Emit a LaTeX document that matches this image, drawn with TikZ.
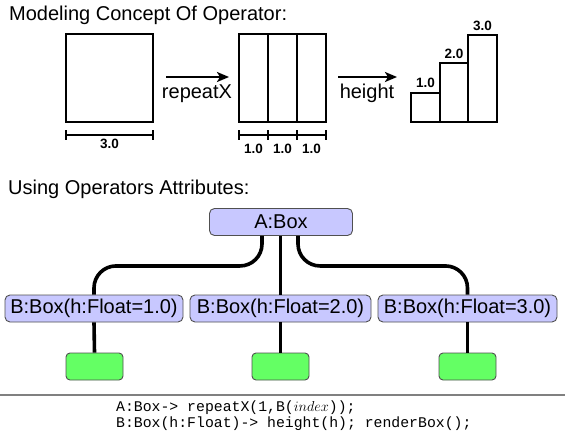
\documentclass[tikz,border=0pt]{standalone}
\usepackage{fontspec}
\setmainfont{Liberation Sans}
\setmonofont{Liberation Mono}
\usetikzlibrary{arrows.meta}
\definecolor{lav}{HTML}{C8C8FF}
\definecolor{grn}{HTML}{64FF64}
\definecolor{bord}{HTML}{505050}
\tikzset{
  shape2/.style={line width=2.2pt},
  dimline/.style={line width=1.8pt},
  oparrow/.style={line width=2.4pt,-{Stealth[length=12pt,width=10pt,inset=3pt]}},
  conn/.style={line width=3.6pt,rounded corners=22pt},
  bigtxt/.style={font=\fontsize{20}{24}\selectfont,inner sep=0pt},
  dimtxt/.style={font=\fontsize{13.5}{16}\selectfont\bfseries,inner sep=0pt,anchor=base},
  tnode/.style={draw=bord,line width=0.9pt,fill=lav,rounded corners=5pt,inner sep=0pt,
     font=\fontsize{20}{24}\selectfont},
  leaf/.style={draw=bord,line width=0.9pt,fill=grn,rounded corners=4pt,inner sep=0pt,
     minimum width=57pt,minimum height=27pt},
  codetxt/.style={font=\fontsize{14.8}{17}\selectfont\ttfamily,inner sep=0pt,anchor=base west}
}
\begin{document}
\begin{tikzpicture}[x=1pt,y=-1pt]
\useasboundingbox (0,0) rectangle (565,436);
\fill[white] (0,0) rectangle (565,436);
% titles
\node[bigtxt,anchor=base west] (t1) at (9,21) {Modeling Concept Of Operator:};
\node[bigtxt,anchor=base west] (t2) at (8,194) {Using Operators Attributes:};
% square
\draw[shape2] (66,34) rectangle (153,122);
\draw[dimline] (66,135) -- (153,135);
\draw[dimline] (66,130) -- (66,140);
\draw[dimline] (153,130) -- (153,140);
\node[dimtxt] (d0) at (109.5,148) {3.0};
% arrow 1
\coordinate (a1s) at (166,77);
\coordinate (a1e) at (229,77);
\draw[oparrow] (a1s) -- (a1e);
\node[bigtxt,anchor=base] (rx) at (197,99) {repeatX};
% split box
\draw[shape2] (239,34) rectangle (326,122);
\draw[shape2] (268,34) -- (268,122);
\draw[shape2] (297,34) -- (297,122);
\draw[dimline] (239,135) -- (326,135);
\foreach \x in {239,268,297,326} \draw[dimline] (\x,130) -- (\x,140);
\node[dimtxt] (d1) at (253.5,153) {1.0};
\node[dimtxt] (d2) at (282.5,153) {1.0};
\node[dimtxt] (d3) at (311.5,153) {1.0};
% arrow 2
\coordinate (a2s) at (338,77);
\coordinate (a2e) at (397,77);
\draw[oparrow] (a2s) -- (a2e);
\node[bigtxt,anchor=base] (ht) at (367,99) {height};
% stairs
\draw[shape2] (411,122) -- (411,93) -- (440,93) -- (440,63) -- (468,63) -- (468,35) -- (497,35) -- (497,122) -- cycle;
\draw[shape2] (440,93) -- (440,122);
\draw[shape2] (468,63) -- (468,122);
\node[dimtxt] (s1) at (425.5,88) {1.0};
\node[dimtxt] (s2) at (454,59) {2.0};
\node[dimtxt] (s3) at (482.5,31) {3.0};
% tree
\node[tnode,minimum width=143pt,minimum height=27pt] (A) at (281,222) {A:Box};
\node[tnode,minimum width=178pt,minimum height=27pt] (B1) at (94,308.5) {B:Box(h:Float=1.0)};
\node[tnode,minimum width=181pt,minimum height=27pt] (B2) at (280.5,308.5) {B:Box(h:Float=2.0)};
\node[tnode,minimum width=179pt,minimum height=27pt] (B3) at (467.5,308.5) {B:Box(h:Float=3.0)};
\node[leaf] (L1) at (94.5,366.5) {};
\node[leaf] (L2) at (280.5,366.5) {};
\node[leaf] (L3) at (467.5,366.5) {};
\draw[conn] ([xshift=-19pt]A.south) -- ++(0,30) -| (B1.north);
\draw[conn] ([xshift=17pt]A.south) -- ++(0,30) -| (B3.north);
\draw[line width=3.6pt] (A.south -| B2.north) -- (B2.north);
\draw[line width=3.6pt] (B1.south) -- (L1.north);
\draw[line width=3.6pt] (B2.south) -- (L2.north);
\draw[line width=3.6pt] (B3.south) -- (L3.north);
% separator
\coordinate (sepl) at (0,395);
\coordinate (sepr) at (565,395);
\draw[line width=1.4pt,color=gray] (sepl) -- (sepr);
% code
\node[codetxt] (c1) at (116,411) {A:Box-> repeatX(1,B($index$));};
\node[codetxt] (c2) at (116,427) {B:Box(h:Float)-> height(h); renderBox();};
\end{tikzpicture}
\end{document}
